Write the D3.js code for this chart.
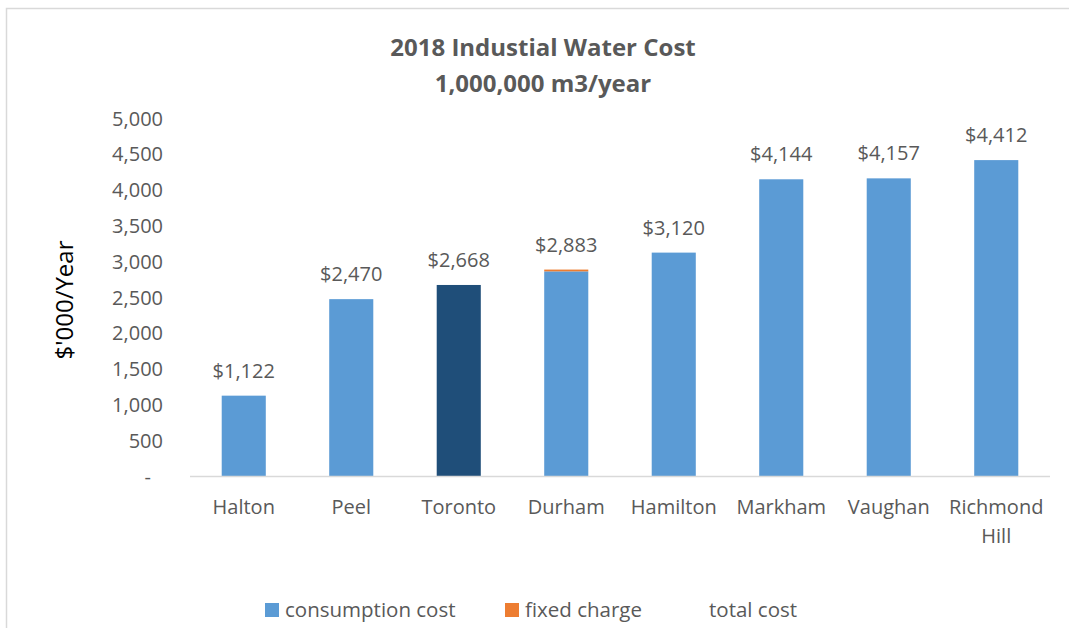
<!DOCTYPE html>
<html>
<head>
<meta charset="utf-8">
<script src="https://cdn.jsdelivr.net/npm/d3@7"></script>
<style>
  body { margin: 0; background: #fff; }
  svg text { font-family: "Open Sans", sans-serif; fill: #595959; }
</style>
</head>
<body>
<div id="chart"></div>
<script>
var cities = ["Halton", "Peel", "Toronto", "Durham", "Hamilton", "Markham", "Vaughan", "Richmond Hill"];
var consumption = [1122, 2470, 2668, 2858, 3120, 4144, 4157, 4412];
var fixedCharge = [0, 0, 0, 25, 0, 0, 0, 0];
var totalCost = [1122, 2470, 2668, 2883, 3120, 4144, 4157, 4412];
var yTicks = [0, 500, 1000, 1500, 2000, 2500, 3000, 3500, 4000, 4500, 5000];

var w = 1069, h = 628;
var plotLeft = 190, plotRight = 1050, plotTop = 118, plotBottom = 476;

var svg = d3.select("#chart").append("svg")
  .attr("width", w)
  .attr("height", h);

// chart border (runs off the right and bottom)
svg.append("rect")
  .attr("x", 6.5).attr("y", 8.5)
  .attr("width", 1100).attr("height", 700)
  .attr("fill", "none")
  .attr("stroke", "#d9d9d9")
  .attr("stroke-width", 1.5);

var x = d3.scaleBand().domain(cities).range([plotLeft, plotRight]).paddingInner(0.59).paddingOuter(0.295);
var y = d3.scaleLinear().domain([0, 5000]).range([plotBottom, plotTop]);

// title
var title = svg.append("text")
  .attr("text-anchor", "middle")
  .style("font-weight", "bold")
  .style("font-size", "24px");
title.append("tspan").attr("x", 543).attr("y", 56).text("2018 Industial Water Cost");
title.append("tspan").attr("x", 543).attr("y", 92).text("1,000,000 m3/year");

// y axis
var yAxis = svg.append("g")
  .attr("transform", `translate(${plotLeft - 24},0)`)
  .call(d3.axisLeft(y).tickValues(yTicks).tickSize(0)
    .tickFormat(d => d === 0 ? "-" : d3.format(",")(d)));
yAxis.select(".domain").remove();
yAxis.selectAll("text").style("font-size", "20px").attr("dy", "0.35em");
yAxis.selectAll("text").filter(d => d === 0).attr("dx", "-12px");

svg.append("text")
  .attr("transform", "translate(73,300) rotate(-90)")
  .attr("text-anchor", "middle")
  .style("font-size", "24px")
  .style("fill", "#000")
  .text("$'000/Year");

// bars
var bars = svg.append("g");
bars.selectAll("rect.cons")
  .data(cities)
  .enter().append("rect")
  .attr("class", "cons")
  .attr("x", d => x(d))
  .attr("width", x.bandwidth())
  .attr("y", (d, i) => y(consumption[i]))
  .attr("height", (d, i) => y(0) - y(consumption[i]))
  .attr("fill", d => d === "Toronto" ? "#1f4e79" : "#5b9bd5");

bars.selectAll("rect.fixed")
  .data(cities)
  .enter().append("rect")
  .attr("class", "fixed")
  .attr("x", d => x(d))
  .attr("width", x.bandwidth())
  .attr("y", (d, i) => y(consumption[i] + fixedCharge[i]))
  .attr("height", (d, i) => y(consumption[i]) - y(consumption[i] + fixedCharge[i]))
  .attr("fill", "#ed7d31");

// x axis line
svg.append("line")
  .attr("x1", plotLeft).attr("x2", plotRight)
  .attr("y1", plotBottom + 0.5).attr("y2", plotBottom + 0.5)
  .attr("stroke", "#d9d9d9")
  .attr("stroke-width", 1.5);

// category labels
var cat = svg.append("g").selectAll("text")
  .data(cities)
  .enter().append("text")
  .attr("text-anchor", "middle")
  .style("font-size", "20px");
cat.each(function(d) {
  var words = d === "Richmond Hill" ? ["Richmond", "Hill"] : [d];
  var t = d3.select(this);
  words.forEach((wd, k) => {
    t.append("tspan")
      .attr("x", x(d) + x.bandwidth() / 2)
      .attr("y", 514 + k * 29)
      .text(wd);
  });
});

// data labels (total cost)
svg.append("g").selectAll("text")
  .data(cities)
  .enter().append("text")
  .attr("x", d => x(d) + x.bandwidth() / 2)
  .attr("y", (d, i) => y(totalCost[i]) - 18)
  .attr("text-anchor", "middle")
  .style("font-size", "20px")
  .text((d, i) => "$" + d3.format(",")(totalCost[i]));

// legend
var legendItems = [
  { label: "consumption cost", color: "#5b9bd5", x: 265 },
  { label: "fixed charge", color: "#ed7d31", x: 505 },
  { label: "total cost", color: null, x: 689 }
];
var lg = svg.append("g").selectAll("g")
  .data(legendItems)
  .enter().append("g")
  .attr("transform", d => `translate(${d.x},610)`);
lg.filter(d => d.color).append("rect")
  .attr("x", 0).attr("y", -7)
  .attr("width", 14).attr("height", 14)
  .attr("fill", d => d.color);
lg.append("text")
  .attr("x", 20).attr("y", 0).attr("dy", "0.35em")
  .style("font-size", "20.5px")
  .text(d => d.label);
</script>
</body>
</html>
